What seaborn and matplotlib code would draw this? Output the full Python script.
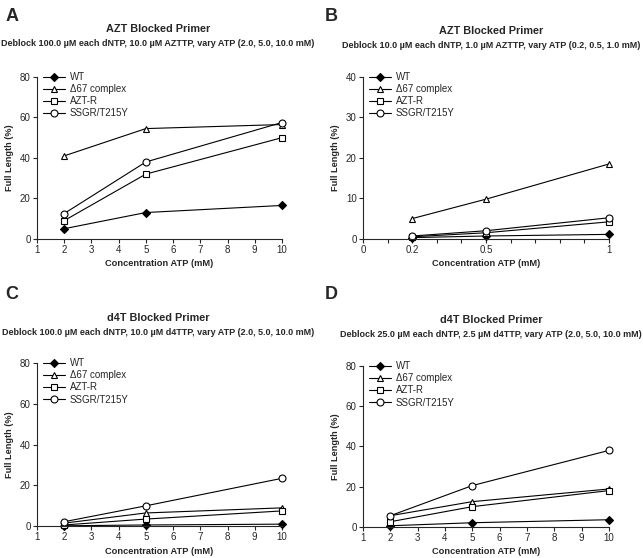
import numpy as np
import pandas as pd
import matplotlib
matplotlib.use("Agg")
import matplotlib.pyplot as plt
from matplotlib.ticker import MultipleLocator, FixedLocator
import seaborn as sns

# --- data ---
mutants = ["WT", "\u039467 complex", "AZT-R", "SSGR/T215Y"]
atp_high = [2, 5, 10]
atp_low = [0.2, 0.5, 1.0]

a_wt = [5, 13, 16.5]
a_d67 = [41, 54.5, 56.5]
a_aztr = [9, 32, 50]
a_ssgr = [12.5, 38, 57.5]

b_wt = [0.3, 0.7, 1.1]
b_d67 = [5.0, 9.8, 18.5]
b_aztr = [0.5, 1.5, 4.2]
b_ssgr = [0.7, 2.0, 5.2]

c_wt = [0.2, 0.6, 1.0]
c_d67 = [1.5, 6.5, 9.0]
c_aztr = [0.6, 3.5, 7.5]
c_ssgr = [2.2, 10.0, 23.5]

d_wt = [0.5, 2.0, 3.5]
d_d67 = [5.5, 12.5, 18.8]
d_aztr = [2.5, 10.0, 18.0]
d_ssgr = [5.5, 20.5, 38.0]

panels = [
    ("A", "AZT Blocked Primer",
     "Deblock 100.0 \u00b5M each dNTP, 10.0 \u00b5M AZTTP, vary ATP (2.0, 5.0, 10.0 mM)",
     atp_high, [a_wt, a_d67, a_aztr, a_ssgr]),
    ("B", "AZT Blocked Primer",
     "Deblock 10.0 \u00b5M each dNTP, 1.0 \u00b5M AZTTP, vary ATP (0.2, 0.5, 1.0 mM)",
     atp_low, [b_wt, b_d67, b_aztr, b_ssgr]),
    ("C", "d4T Blocked Primer",
     "Deblock 100.0 \u00b5M each dNTP, 10.0 \u00b5M d4TTP, vary ATP (2.0, 5.0, 10.0 mM)",
     atp_high, [c_wt, c_d67, c_aztr, c_ssgr]),
    ("D", "d4T Blocked Primer",
     "Deblock 25.0 \u00b5M each dNTP, 2.5 \u00b5M d4TTP, vary ATP (2.0, 5.0, 10.0 mM)",
     atp_high, [d_wt, d_d67, d_aztr, d_ssgr]),
]

marker_styles = [("D", "black"), ("^", "white"), ("s", "white"), ("o", "white")]

sns.set_theme(style="ticks")
plt.rcParams["font.family"] = ["Liberation Sans", "DejaVu Sans"]
plt.rcParams["axes.linewidth"] = 0.8
plt.rcParams["xtick.major.width"] = 0.8
plt.rcParams["ytick.major.width"] = 0.8
plt.rcParams["xtick.major.size"] = 3
plt.rcParams["ytick.major.size"] = 3

fig = plt.figure(figsize=(6.43, 5.58), dpi=100)

# axes rectangles (figure fractions)
rects = [
    [0.0575, 0.572, 0.381, 0.290],
    [0.5645, 0.572, 0.3825, 0.290],
    [0.0575, 0.057, 0.381, 0.292],
    [0.5645, 0.056, 0.3825, 0.288],
]
header_x = [0.246, 0.764, 0.246, 0.764]
letter_pos = [(0.008, 0.97), (0.505, 0.97), (0.008, 0.472), (0.505, 0.472)]
title_y = [0.948, 0.944, 0.430, 0.426]

for i, (letter, title, subtitle, xs, series) in enumerate(panels):
    ax = fig.add_axes(rects[i])
    for name, ys, (mk, fc) in zip(mutants, series, marker_styles):
        df = pd.DataFrame({"atp": xs, "val": ys})
        sns.lineplot(data=df, x="atp", y="val", ax=ax, color="black", lw=0.8,
                     marker=mk, markersize=5 if mk != "D" else 4.5,
                     markerfacecolor=fc, markeredgecolor="black",
                     markeredgewidth=0.8, label=name, clip_on=False)
    sns.despine(ax=ax)
    if letter == "B":
        ax.set_xlim(0, 1)
        ax.set_ylim(0, 40)
        ax.xaxis.set_major_locator(FixedLocator([0, 0.2, 0.5, 1]))
        ax.set_xticklabels(["0", "0.2", "0.5", "1"])
        ax.xaxis.set_minor_locator(MultipleLocator(0.1))
        ax.tick_params(axis="x", which="minor", length=3, width=0.8)
        ax.yaxis.set_major_locator(MultipleLocator(10))
    else:
        ax.set_xlim(1, 10)
        ax.set_ylim(0, 80)
        ax.xaxis.set_major_locator(MultipleLocator(1))
        ax.yaxis.set_major_locator(MultipleLocator(20))
    ax.tick_params(labelsize=7, pad=1.5)
    ax.set_xlabel("Concentration ATP (mM)", fontsize=6.7, fontweight="bold", labelpad=3)
    ax.set_ylabel("Full Length (%)", fontsize=6.6, fontweight="bold", labelpad=4)
    ax.legend(loc="upper left", bbox_to_anchor=(0.01, 1.055), frameon=False,
              fontsize=7, handlelength=2.2, handletextpad=0.5, labelspacing=0.22,
              borderaxespad=0)
    fig.text(letter_pos[i][0], letter_pos[i][1], letter, fontsize=13,
             fontweight="bold", va="center", ha="left")
    fig.text(header_x[i], title_y[i], title, fontsize=7.8, fontweight="bold",
             ha="center", va="center")
    fig.text(header_x[i], title_y[i] - 0.026, subtitle, fontsize=6.5,
             fontweight="bold", ha="center", va="center")

fig.savefig("out.png", dpi=100)
